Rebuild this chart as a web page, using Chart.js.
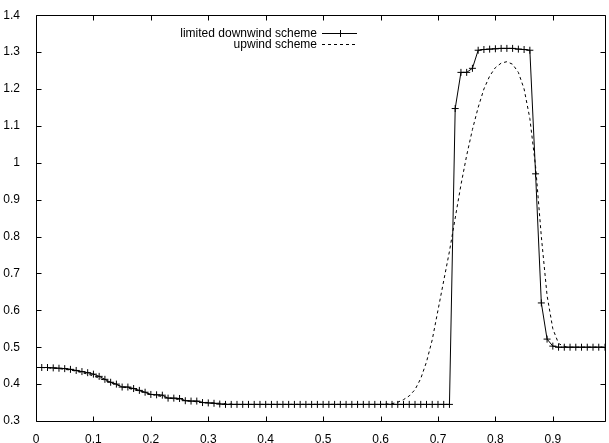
<!DOCTYPE html>
<html>
<head>
<meta charset="utf-8">
<script src="https://cdn.jsdelivr.net/npm/chart.js@4/dist/chart.umd.min.js"></script>
<style>
html,body{margin:0;padding:0;background:#fff;}
canvas{display:block;}
</style>
</head>
<body>
<canvas id="c" width="609" height="443"></canvas>
<script>
const xs = [0.00,0.01,0.02,0.03,0.04,0.05,0.06,0.07,0.08,0.09,
            0.10,0.11,0.12,0.13,0.14,0.15,0.16,0.17,0.18,0.19,
            0.20,0.21,0.22,0.23,0.24,0.25,0.26,0.27,0.28,0.29,
            0.30,0.31,0.32,0.33,0.34,0.35,0.36,0.37,0.38,0.39,
            0.40,0.41,0.42,0.43,0.44,0.45,0.46,0.47,0.48,0.49,
            0.50,0.51,0.52,0.53,0.54,0.55,0.56,0.57,0.58,0.59,
            0.60,0.61,0.62,0.63,0.64,0.65,0.66,0.67,0.68,0.69,
            0.70,0.71,0.72,0.73,0.74,0.75,0.76,0.77,0.78,0.79,
            0.80,0.81,0.82,0.83,0.84,0.85,0.86,0.87,0.88,0.89,
            0.90,0.91,0.92,0.93,0.94,0.95,0.96,0.97,0.98,0.99];

const downwind = [0.445,0.445,0.445,0.444,0.443,0.442,0.440,0.437,0.434,0.431,
                  0.427,0.421,0.413,0.405,0.400,0.392,0.392,0.388,0.383,0.378,
                  0.372,0.371,0.370,0.362,0.362,0.361,0.355,0.354,0.354,0.350,
                  0.349,0.348,0.346,0.345,0.345,0.345,0.345,0.345,0.345,0.345,
                  0.345,0.345,0.345,0.345,0.345,0.345,0.345,0.345,0.345,0.345,
                  0.345,0.345,0.345,0.345,0.345,0.345,0.345,0.345,0.345,0.345,
                  0.345,0.345,0.345,0.345,0.345,0.345,0.345,0.345,0.345,0.345,
                  0.345,0.345,0.345,1.147,1.245,1.245,1.256,1.305,1.307,1.308,
                  1.309,1.310,1.310,1.310,1.308,1.307,1.305,0.970,0.620,0.522,
                  0.503,0.500,0.500,0.500,0.500,0.500,0.500,0.500,0.500,0.500];

const upwind = [0.445,0.445,0.444,0.443,0.442,0.440,0.438,0.435,0.431,0.427,
                0.422,0.416,0.410,0.404,0.398,0.393,0.389,0.385,0.381,0.377,
                0.373,0.369,0.366,0.363,0.360,0.358,0.356,0.354,0.352,0.351,
                0.350,0.349,0.348,0.347,0.346,0.345,0.345,0.345,0.345,0.345,
                0.345,0.345,0.345,0.345,0.345,0.345,0.345,0.345,0.345,0.345,
                0.345,0.345,0.345,0.345,0.345,0.345,0.345,0.345,0.345,0.345,
                0.345,0.346,0.347,0.351,0.358,0.368,0.385,0.415,0.460,0.520,
                0.600,0.680,0.760,0.850,0.940,1.020,1.090,1.150,1.200,1.235,
                1.258,1.270,1.274,1.267,1.245,1.200,1.120,0.990,0.800,0.640,
                0.550,0.510,0.502,0.500,0.500,0.500,0.500,0.500,0.500,0.500];

const seriesLabels = ['limited downwind scheme', 'upwind scheme'];

const xTickValues = [0,0.1,0.2,0.3,0.4,0.5,0.6,0.7,0.8,0.9];
const xTickLabels = ['0','0.1','0.2','0.3','0.4','0.5','0.6','0.7','0.8','0.9'];
const yTickValues = [0.3,0.4,0.5,0.6,0.7,0.8,0.9,1.0,1.1,1.2,1.3,1.4];
const yTickLabels = ['0.3','0.4','0.5','0.6','0.7','0.8','0.9','1','1.1','1.2','1.3','1.4'];

const FONT = {family: '"Liberation Sans", Arial, Helvetica, sans-serif', size: 12};

const framePlugin = {
  id: 'gnuplotFrame',
  afterDatasetsDraw(chart) {
    const ctx = chart.ctx;
    const a = chart.chartArea;
    const xs_ = chart.scales.x, ys_ = chart.scales.y;
    ctx.save();
    ctx.strokeStyle = '#000';
    ctx.lineWidth = 1;
    ctx.setLineDash([]);
    ctx.beginPath();
    const L = Math.round(a.left) + 0.5, R = Math.round(a.right) + 0.5;
    const T = Math.round(a.top) + 0.5, B = Math.round(a.bottom) + 0.5;
    ctx.rect(L, T, R - L, B - T);
    const tl = 5;
    xs_.ticks.forEach(t => {
      const px = Math.round(xs_.getPixelForValue(t.value)) + 0.5;
      ctx.moveTo(px, B); ctx.lineTo(px, B - tl);
      ctx.moveTo(px, T); ctx.lineTo(px, T + tl);
    });
    ys_.ticks.forEach(t => {
      const py = Math.round(ys_.getPixelForValue(t.value)) + 0.5;
      ctx.moveTo(L, py); ctx.lineTo(L + tl, py);
      ctx.moveTo(R, py); ctx.lineTo(R - tl, py);
    });
    ctx.stroke();

    // key (gnuplot style)
    ctx.font = FONT.size + 'px ' + FONT.family;
    ctx.fillStyle = '#000';
    ctx.textAlign = 'right';
    ctx.textBaseline = 'middle';
    const textRight = 317, s0 = 322, s1 = 357;
    const rows = [33, 44];
    chart.data.datasets.forEach((ds, i) => {
      const y = rows[i] + 0.5;
      ctx.fillText(ds.label, textRight, rows[i] + 1);
      ctx.beginPath();
      ctx.setLineDash(ds.borderDash || []);
      ctx.moveTo(s0, y); ctx.lineTo(s1, y);
      ctx.stroke();
      ctx.setLineDash([]);
      if (ds.pointRadius > 0) {
        const cx = Math.round((s0 + s1) / 2) + 0.5;
        ctx.beginPath();
        ctx.moveTo(cx, y - 3.5); ctx.lineTo(cx, y + 3.5);
        ctx.moveTo(cx - 3.5, y); ctx.lineTo(cx + 3.5, y);
        ctx.stroke();
      }
    });
    ctx.restore();
  }
};

new Chart(document.getElementById('c'), {
  type: 'line',
  data: {
    datasets: [
      {
        label: seriesLabels[0],
        data: xs.map((x, i) => ({x: x, y: downwind[i]})),
        borderColor: '#000',
        borderWidth: 1,
        pointStyle: 'cross',
        pointRadius: 3.5,
        pointBorderColor: '#000',
        pointBorderWidth: 1,
        pointHoverRadius: 3.5,
        tension: 0,
        fill: false
      },
      {
        label: seriesLabels[1],
        data: xs.map((x, i) => ({x: x, y: upwind[i]})),
        borderColor: '#000',
        borderWidth: 1,
        borderDash: [3, 3],
        pointRadius: 0,
        pointHoverRadius: 0,
        tension: 0,
        fill: false
      }
    ]
  },
  options: {
    responsive: false,
    animation: false,
    events: [],
    layout: {padding: {top: 14, right: 2, left: 0, bottom: 0}},
    plugins: {legend: {display: false}, tooltip: {enabled: false}},
    scales: {
      x: {
        type: 'linear',
        min: 0,
        max: 0.99,
        grid: {display: false},
        border: {display: false},
        afterBuildTicks: s => { s.ticks = xTickValues.map(v => ({value: v})); },
        afterFit: s => { s.height = 22; },
        ticks: {
          color: '#000',
          font: FONT,
          padding: 3,
          maxRotation: 0,
          autoSkip: false,
          callback: (v, i) => xTickLabels[i]
        }
      },
      y: {
        type: 'linear',
        min: 0.3,
        max: 1.4,
        grid: {display: false},
        border: {display: false},
        afterBuildTicks: s => { s.ticks = yTickValues.map(v => ({value: v})); },
        afterFit: s => { s.width = 36; },
        ticks: {
          color: '#000',
          font: FONT,
          padding: 8,
          autoSkip: false,
          callback: (v, i) => yTickLabels[i]
        }
      }
    }
  },
  plugins: [framePlugin]
});
</script>
</body>
</html>
